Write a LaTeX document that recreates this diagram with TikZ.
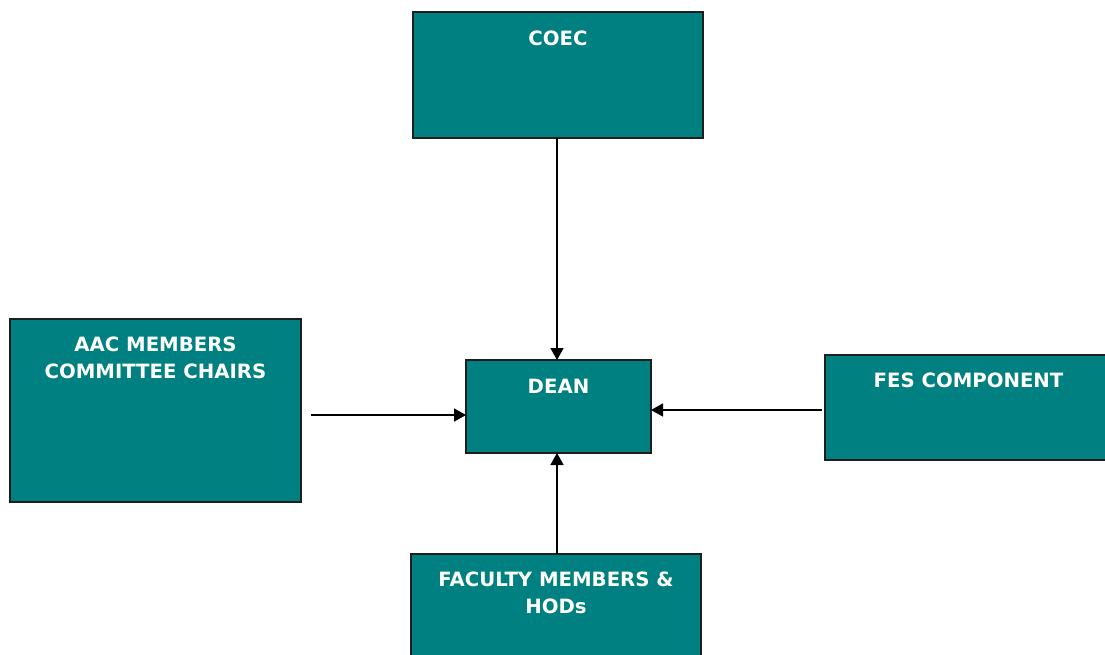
\documentclass[tikz,border=0pt]{standalone}
\usepackage{fontspec}
\setmainfont{DejaVu Sans}
\usetikzlibrary{arrows.meta}
\definecolor{tealbox}{RGB}{0,128,128}
\definecolor{edgegrey}{RGB}{30,30,30}
\begin{document}
\begin{tikzpicture}[x=1pt,y=-1pt,
  box/.style={draw=edgegrey, line width=1.4pt, fill=tealbox, anchor=north west,
    inner sep=0pt, outer sep=0pt},
  lbl/.style={text=white, font=\fontsize{19.7pt}{26.5pt}\selectfont\bfseries,
    align=center, inner sep=0pt, anchor=base},
  arr/.style={draw=black, line width=1.6pt, -{Triangle[length=12pt,width=13pt]}}]
\useasboundingbox (0,0) rectangle (1105,654);
\clip (0,0) rectangle (1105,654);
\fill[white] (0,0) rectangle (1105,654);

% boxes
\node[box, minimum width=290pt, minimum height=126pt] (coec) at (413,12) {};
\node[box, minimum width=185pt, minimum height=93pt]  (dean) at (466,360) {};
\node[box, minimum width=291pt, minimum height=183pt] (aac)  at (10,319) {};
\node[box, minimum width=287pt, minimum height=105pt] (fes)  at (825,355) {};
\node[box, minimum width=290pt, minimum height=130pt] (fac)  at (411,554) {};

% titles (base anchor sits on the last line of a two-line title)
\node[lbl] (coecT) at ([yshift=-33pt]coec.north) {COEC};
\node[lbl] (deanT) at ([yshift=-33pt]dean.north) {DEAN};
\node[lbl] (aacT)  at ([yshift=-59pt]aac.north) {AAC MEMBERS\\COMMITTEE CHAIRS};
\node[lbl] (fesT)  at ([yshift=-32pt]fes.north) {FES COMPONENT};
\node[lbl] (facT)  at ([yshift=-59pt]fac.north) {FACULTY MEMBERS \&\\HODs};

% connectors
\coordinate (rowL) at (0,415);
\coordinate (rowR) at (0,410);
\coordinate (colC) at (557,0);
\draw[arr] (coec.south -| colC) -- (dean.north -| colC);
\draw[arr] ([xshift=10pt]aac.east |- rowL) -- (dean.west |- rowL);
\draw[arr] ([xshift=-3pt]fes.west |- rowR) -- (dean.east |- rowR);
\draw[arr] (fac.north -| colC) -- (dean.south -| colC);
\end{tikzpicture}
\end{document}
